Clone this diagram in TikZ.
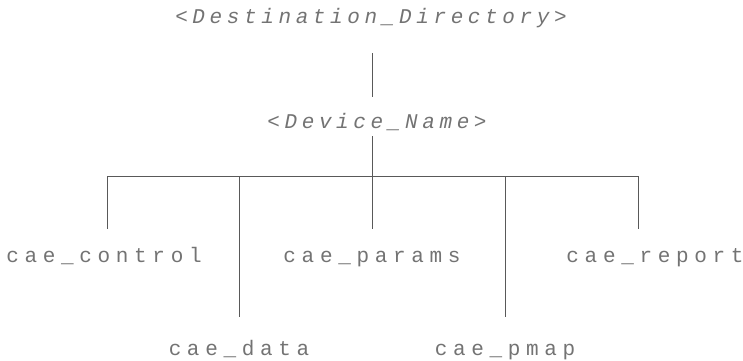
\documentclass[tikz,border=0pt]{standalone}
\usepackage{fontspec}
\setmonofont{Liberation Mono}[LetterSpace=27]
\usetikzlibrary{positioning}

\begin{document}
\begin{tikzpicture}[x=1pt,y=-1pt,on grid,
    dir/.style={font=\ttfamily\itshape\fontsize{21}{21}\selectfont\addfontfeature{LetterSpace=22},
      text=black!55,inner sep=0pt,text height=12pt,text depth=4pt},
    file/.style={font=\ttfamily\fontsize{21}{21}\selectfont,
      text=black!55,inner sep=0pt,text height=12pt,text depth=4pt},
    link/.style={draw=black!65,line width=0.9pt}]
  \useasboundingbox (0,0) rectangle (743,360);
  % directories
  \node[dir] (dest) at (371,19) {<Destination\_Directory>};
  \node[dir] (dev) [below right=105pt and 6pt of dest] {<Device\_Name>};
  % files
  \node[file] (params) [below left=134pt and 5pt of dev] {cae\_params};
  \node[file] (control) [left=268pt of params] {cae\_control};
  \node[file] (report) [right=283pt of params] {cae\_report};
  \node[file] (data) [below left=93pt and 133pt of params] {cae\_data};
  \node[file] (pmap) [below right=93pt and 133pt of params] {cae\_pmap};
  % bar
  \coordinate (bar) at (372,176);
  \path (bar) ++(-265,0) coordinate (b1)
        (bar) ++(-133,0) coordinate (b2)
        (bar) ++(133,0) coordinate (b4)
        (bar) ++(266,0) coordinate (b5);
  \draw[link, shorten <=26pt, shorten >=19pt] (dest.south -| bar) -- (dev.north -| bar);
  \draw[link, shorten <=4pt] (dev.south -| bar) -- (bar);
  \draw[link] (b1) -- (b5);
  \foreach \b/\n/\s in {b1/control/21pt, b2/data/26pt, bar/params/21pt, b4/pmap/26pt, b5/report/21pt}
    \draw[link, shorten >=\s] (\b) -- (\b |- \n.north);
\end{tikzpicture}
\end{document}
